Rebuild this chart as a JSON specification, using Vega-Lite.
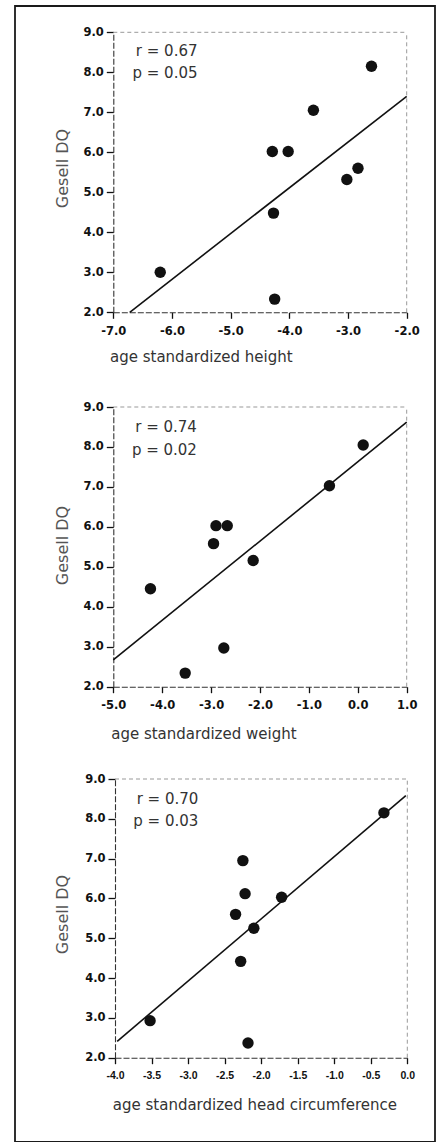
{
  "$schema": "https://vega.github.io/schema/vega-lite/v6.json",
  "width": 420,
  "height": 1136,
  "autosize": {"type": "none"},
  "padding": {"left": 15, "top": 6, "right": 2, "bottom": 0},
  "background": "white",
  "config": {
    "view": {"stroke": "#1a1a1a", "strokeWidth": 1.8, "fill": "white"},
    "locale": {"number": {"decimal": ".", "thousands": ",", "grouping": [3], "currency": ["$", ""], "minus": "-"}},
    "axis": {"grid": false, "domainColor": "#333", "domainWidth": 1.1, "domainDash": [6, 2], "tickColor": "#111", "tickWidth": 1.3, "labelFont": "DejaVu Sans", "labelFontSize": 11.5, "labelFontWeight": "bold", "labelColor": "#111", "labelFlush": false, "labelOverlap": false, "titleFont": "DejaVu Sans", "titleFontWeight": "normal"},
    "axisX": {"tickSize": 6, "labelPadding": 7, "titleFontSize": 15, "titleColor": "#333"},
    "axisY": {"tickSize": 7, "labelPadding": 3, "titleFontSize": 16, "titleColor": "#555"},
    "text": {"font": "DejaVu Sans", "fontSize": 15, "color": "#333"}
  },
  "datasets": {
    "height": [
      {"z": -6.2, "dq": 3.0}, {"z": -4.25, "dq": 2.33}, {"z": -4.27, "dq": 4.48},
      {"z": -4.29, "dq": 6.02}, {"z": -4.02, "dq": 6.02}, {"z": -3.59, "dq": 7.05},
      {"z": -3.02, "dq": 5.32}, {"z": -2.83, "dq": 5.6}, {"z": -2.6, "dq": 8.15}
    ],
    "height_fit": [{"z": -6.72, "dq": 2.0}, {"z": -2.0, "dq": 7.4}],
    "weight": [
      {"z": -4.24, "dq": 4.45}, {"z": -3.53, "dq": 2.34}, {"z": -2.95, "dq": 5.58},
      {"z": -2.9, "dq": 6.03}, {"z": -2.67, "dq": 6.03}, {"z": -2.74, "dq": 2.97},
      {"z": -2.14, "dq": 5.16}, {"z": -0.58, "dq": 7.03}, {"z": 0.11, "dq": 8.05}
    ],
    "weight_fit": [{"z": -5.0, "dq": 2.67}, {"z": 1.0, "dq": 8.62}],
    "head": [
      {"z": -3.52, "dq": 2.93}, {"z": -2.18, "dq": 2.37}, {"z": -2.28, "dq": 4.42},
      {"z": -2.35, "dq": 5.6}, {"z": -2.1, "dq": 5.25}, {"z": -2.22, "dq": 6.12},
      {"z": -2.25, "dq": 6.95}, {"z": -1.72, "dq": 6.03}, {"z": -0.32, "dq": 8.15}
    ],
    "head_fit": [{"z": -3.97, "dq": 2.41}, {"z": -0.02, "dq": 8.58}]
  },
  "resolve": {"scale": {"x": "independent", "y": "independent"}, "axis": {"x": "independent", "y": "independent"}},
  "layer": [
    {
      "layer": [
        {
          "data": {"name": "height"},
          "mark": {"type": "circle", "size": 130, "color": "#111", "opacity": 1},
          "encoding": {
            "x": {"field": "z", "type": "quantitative",
              "scale": {"domain": [-7, -2], "range": [98.3, 391.7], "nice": false, "zero": false},
              "axis": {"orient": "bottom", "offset": -829.7, "values": [-7, -6, -5, -4, -3, -2], "format": ".1f",
                "title": "age standardized height", "titleX": 94.5, "titleY": 49.5, "titleAlign": "left", "titleBaseline": "alphabetic", "titleAnchor": "start"}},
            "y": {"field": "dq", "type": "quantitative",
              "scale": {"domain": [2, 9], "range": [306.3, 26.3], "nice": false, "zero": false},
              "axis": {"orient": "left", "offset": -98.3, "values": [2, 3, 4, 5, 6, 7, 8, 9], "format": ".1f",
                "title": "Gesell DQ", "titleX": -46.3, "titleY": 162, "titleAngle": 270, "titleAlign": "center", "titleBaseline": "alphabetic"}}
          }
        },
        {
          "data": {"name": "height_fit"},
          "mark": {"type": "line", "color": "#111", "strokeWidth": 1.6},
          "encoding": {"x": {"field": "z", "type": "quantitative"}, "y": {"field": "dq", "type": "quantitative"}}
        },
        {
          "data": {"values": [{}]},
          "mark": {"type": "rule", "color": "#999", "strokeWidth": 1, "strokeDash": [4, 3]},
          "encoding": {"x": {"datum": -7}, "x2": {"datum": -2}, "y": {"datum": 9}}
        },
        {
          "data": {"values": [{}]},
          "mark": {"type": "rule", "color": "#999", "strokeWidth": 1, "strokeDash": [4, 3]},
          "encoding": {"x": {"datum": -2}, "y": {"datum": 2}, "y2": {"datum": 9}}
        },
        {
          "data": {"values": [{}]},
          "mark": {"type": "text", "align": "right", "baseline": "alphabetic"},
          "encoding": {"x": {"datum": -5.565}, "y": {"datum": 8.4}, "text": {"value": "r = 0.67"}}
        },
        {
          "data": {"values": [{}]},
          "mark": {"type": "text", "align": "right", "baseline": "alphabetic"},
          "encoding": {"x": {"datum": -5.565}, "y": {"datum": 7.85}, "text": {"value": "p = 0.05"}}
        }
      ]
    },
    {
      "layer": [
        {
          "data": {"name": "weight"},
          "mark": {"type": "circle", "size": 130, "color": "#111", "opacity": 1},
          "encoding": {
            "x": {"field": "z", "type": "quantitative",
              "scale": {"domain": [-5, 1], "range": [98.3, 391.7], "nice": false, "zero": false},
              "axis": {"orient": "bottom", "offset": -455.3, "values": [-5, -4, -3, -2, -1, 0, 1], "format": ".1f",
                "title": "age standardized weight", "titleX": 95.7, "titleY": 51.5, "titleAlign": "left", "titleBaseline": "alphabetic", "titleAnchor": "start"}},
            "y": {"field": "dq", "type": "quantitative",
              "scale": {"domain": [2, 9], "range": [680.7, 401], "nice": false, "zero": false},
              "axis": {"orient": "left", "offset": -98.3, "values": [2, 3, 4, 5, 6, 7, 8, 9], "format": ".1f",
                "title": "Gesell DQ", "titleX": -46.3, "titleY": 539, "titleAngle": 270, "titleAlign": "center", "titleBaseline": "alphabetic"}}
          }
        },
        {
          "data": {"name": "weight_fit"},
          "mark": {"type": "line", "color": "#111", "strokeWidth": 1.6},
          "encoding": {"x": {"field": "z", "type": "quantitative"}, "y": {"field": "dq", "type": "quantitative"}}
        },
        {
          "data": {"values": [{}]},
          "mark": {"type": "rule", "color": "#999", "strokeWidth": 1, "strokeDash": [4, 3]},
          "encoding": {"x": {"datum": -5}, "x2": {"datum": 1}, "y": {"datum": 9}}
        },
        {
          "data": {"values": [{}]},
          "mark": {"type": "rule", "color": "#999", "strokeWidth": 1, "strokeDash": [4, 3]},
          "encoding": {"x": {"datum": 1}, "y": {"datum": 2}, "y2": {"datum": 9}}
        },
        {
          "data": {"values": [{}]},
          "mark": {"type": "text", "align": "right", "baseline": "alphabetic"},
          "encoding": {"x": {"datum": -3.29}, "y": {"datum": 8.37}, "text": {"value": "r = 0.74"}}
        },
        {
          "data": {"values": [{}]},
          "mark": {"type": "text", "align": "right", "baseline": "alphabetic"},
          "encoding": {"x": {"datum": -3.29}, "y": {"datum": 7.8}, "text": {"value": "p = 0.02"}}
        }
      ]
    },
    {
      "layer": [
        {
          "data": {"name": "head"},
          "mark": {"type": "circle", "size": 130, "color": "#111", "opacity": 1},
          "encoding": {
            "x": {"field": "z", "type": "quantitative",
              "scale": {"domain": [-4, 0], "range": [100, 392.3], "nice": false, "zero": false},
              "axis": {"orient": "bottom", "offset": -84.3, "values": [-4, -3.5, -3, -2.5, -2, -1.5, -1, -0.5, 0], "format": ".1f",
                "labelFont": "Liberation Sans", "labelFontSize": 10.5, "labelPadding": 7,
                "title": "age standardized head circumference", "titleX": 97.3, "titleY": 51.5, "titleAlign": "left", "titleBaseline": "alphabetic", "titleAnchor": "start"}},
            "y": {"field": "dq", "type": "quantitative",
              "scale": {"domain": [2, 9], "range": [1051.7, 773], "nice": false, "zero": false},
              "axis": {"orient": "left", "offset": -100, "values": [2, 3, 4, 5, 6, 7, 8, 9], "format": ".1f",
                "title": "Gesell DQ", "titleX": -48, "titleY": 908, "titleAngle": 270, "titleAlign": "center", "titleBaseline": "alphabetic"}}
          }
        },
        {
          "data": {"name": "head_fit"},
          "mark": {"type": "line", "color": "#111", "strokeWidth": 1.6},
          "encoding": {"x": {"field": "z", "type": "quantitative"}, "y": {"field": "dq", "type": "quantitative"}}
        },
        {
          "data": {"values": [{}]},
          "mark": {"type": "rule", "color": "#999", "strokeWidth": 1, "strokeDash": [4, 3]},
          "encoding": {"x": {"datum": -4}, "x2": {"datum": 0}, "y": {"datum": 9}}
        },
        {
          "data": {"values": [{}]},
          "mark": {"type": "rule", "color": "#999", "strokeWidth": 1, "strokeDash": [4, 3]},
          "encoding": {"x": {"datum": 0}, "y": {"datum": 2}, "y2": {"datum": 9}}
        },
        {
          "data": {"values": [{}]},
          "mark": {"type": "text", "align": "right", "baseline": "alphabetic"},
          "encoding": {"x": {"datum": -2.86}, "y": {"datum": 8.36}, "text": {"value": "r = 0.70"}}
        },
        {
          "data": {"values": [{}]},
          "mark": {"type": "text", "align": "right", "baseline": "alphabetic"},
          "encoding": {"x": {"datum": -2.86}, "y": {"datum": 7.82}, "text": {"value": "p = 0.03"}}
        }
      ]
    }
  ]
}
